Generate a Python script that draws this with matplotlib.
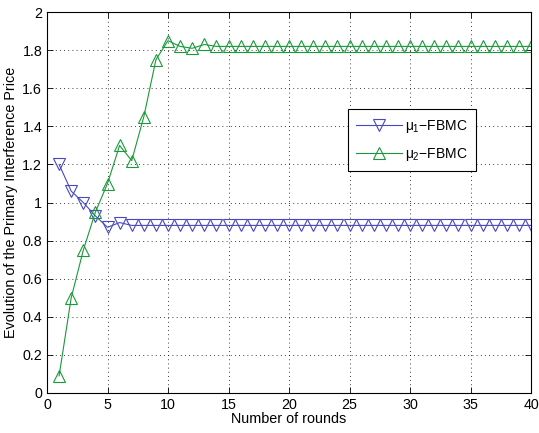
import matplotlib
matplotlib.use('Agg')
import matplotlib.pyplot as plt
import numpy as np

plt.rcParams['font.family'] = ['Liberation Sans', 'DejaVu Sans']
plt.rcParams['mathtext.fontset'] = 'custom'
plt.rcParams['mathtext.rm'] = 'Liberation Sans'
plt.rcParams['mathtext.it'] = 'Liberation Sans'

# --- dados ---
rounds = list(range(1, 41))
mu1 = [1.20, 1.06, 1.00, 0.93, 0.87, 0.895] + [0.88] * 34
mu2 = [0.09, 0.50, 0.75, 0.95, 1.10, 1.30, 1.22, 1.45, 1.75, 1.85,
       1.82, 1.81, 1.83] + [1.82] * 27

x_ticks = list(range(0, 41, 5))
y_ticks = [0, 0.2, 0.4, 0.6, 0.8, 1, 1.2, 1.4, 1.6, 1.8, 2]
y_labels = ['0', '0.2', '0.4', '0.6', '0.8', '1', '1.2', '1.4', '1.6', '1.8', '2']

fig = plt.figure(figsize=(5.39, 4.33), dpi=100)
ax = fig.add_axes([0.0872, 0.0924, 0.8980, 0.8796])

blue = '#4848c0'
green = '#189a38'
ax.plot(rounds, mu1, color=blue, lw=0.8, marker='v', ms=8,
        mfc='none', mec=blue, mew=0.8, label=r'$\mu_1$' + '\u2212FBMC')
ax.plot(rounds, mu2, color=green, lw=0.8, marker='^', ms=8,
        mfc='none', mec=green, mew=0.8, label=r'$\mu_2$' + '\u2212FBMC')

ax.set_xlim(0, 40)
ax.set_ylim(0, 2)
ax.set_xticks(x_ticks)
ax.set_yticks(y_ticks)
ax.set_yticklabels(y_labels)
ax.tick_params(direction='in', top=True, right=True, labelsize=10.3, length=4, width=0.6)
ax.grid(True, linestyle=(0, (1, 4)), color='black', lw=0.6)
for s in ax.spines.values():
    s.set_linewidth(0.8)

ax.set_xlabel('Number of rounds', fontsize=10.4, labelpad=0)
ax.set_ylabel('Evolution of the Primary Interference Price', fontsize=10.4, labelpad=3)

leg = ax.legend(loc='upper left', bbox_to_anchor=(0.622, 0.745), fontsize=10,
                fancybox=False, edgecolor='black', framealpha=1,
                handlelength=3.3, handletextpad=0.2, borderpad=0.6,
                labelspacing=0.8, borderaxespad=0)
leg.get_frame().set_linewidth(0.8)

plt.savefig('out.png', dpi=100)
